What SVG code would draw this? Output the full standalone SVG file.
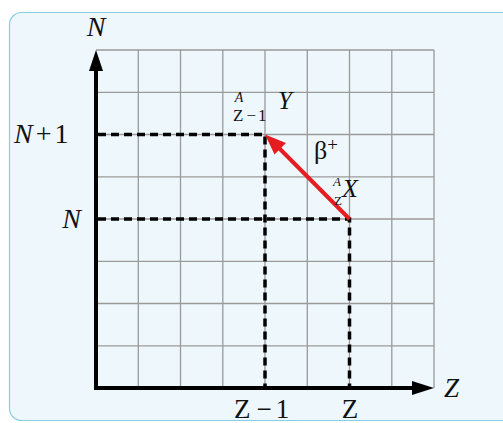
<svg xmlns="http://www.w3.org/2000/svg" width="503" height="423" viewBox="0 0 503 423">
<style>
.grid{stroke:#9a9a9a;stroke-width:1.3;fill:none}
.axis{stroke:#000;stroke-width:4;fill:none}
.dash{stroke:#000;stroke-width:3.5;stroke-dasharray:8 5;fill:none}
.t{font-family:"Liberation Serif","Times New Roman",serif;fill:#111}
.i{font-style:italic}
</style>
<rect x="0" y="0" width="503" height="423" fill="#fff"/>
<rect x="9.5" y="12.5" width="520" height="408" rx="12" fill="#eef7fc" stroke="#86cfe3" stroke-width="1.2"/>
<g id="grid">
<path class="grid" d="M96,50H434M96,92.3H434M96,134.5H434M96,176.8H434M96,219H434M96,261.3H434M96,303.5H434M96,345.8H434M138.3,50V388M180.5,50V388M222.8,50V388M265,50V388M307.3,50V388M349.5,50V388M391.8,50V388M434,50V388"/>
</g>
<g id="connectors">
<path class="dash" d="M98,134.5H265V388"/>
<path class="dash" d="M98,219H349.5V388"/>
<line x1="349.5" y1="219" x2="276" y2="145" stroke="#e51c20" stroke-width="4"/>
<path d="M265,134.5 L286,143 L274.5,154.5 z" fill="#e51c20"/>
</g>
<g id="y-axis">
<line class="axis" x1="96" y1="390" x2="96" y2="68"/>
<path d="M96,50 L103,71 L89,71 z" fill="#000"/>
<text class="t i" x="96" y="36" font-size="28" text-anchor="middle">N</text>
<text class="t i" x="14" y="143" font-size="28">N<tspan font-style="normal" dx="3">+</tspan><tspan font-style="normal" dx="3">1</tspan></text>
<text class="t i" x="81" y="228" font-size="28" text-anchor="end">N</text>
</g>
<g id="x-axis">
<line class="axis" x1="94" y1="388" x2="414" y2="388"/>
<path d="M434,388 L412,381 L412,395 z" fill="#000"/>
<text class="t i" x="444" y="397" font-size="27">Z</text>
<text class="t" x="234" y="418" font-size="27">Z<tspan dx="6">−</tspan><tspan dx="4">1</tspan></text>
<text class="t" x="350" y="418" font-size="27" text-anchor="middle">Z</text>
</g>
<g id="node-Y">
<text class="t i" x="239" y="102" font-size="14" text-anchor="middle">A</text>
<text class="t" x="233" y="121" font-size="17">Z<tspan dx="3">−</tspan><tspan dx="2">1</tspan></text>
<text class="t i" x="278" y="109" font-size="25">Y</text>
</g>
<g id="beta">
<text class="t" x="314" y="159" font-size="26">β<tspan font-size="19" dy="-8">+</tspan></text>
</g>
<g id="node-X">
<text class="t i" x="337" y="186" font-size="13" text-anchor="middle">A</text>
<text class="t" x="338" y="205" font-size="13" text-anchor="middle">Z</text>
<text class="t i" x="342" y="197" font-size="26">X</text>
</g>
</svg>
